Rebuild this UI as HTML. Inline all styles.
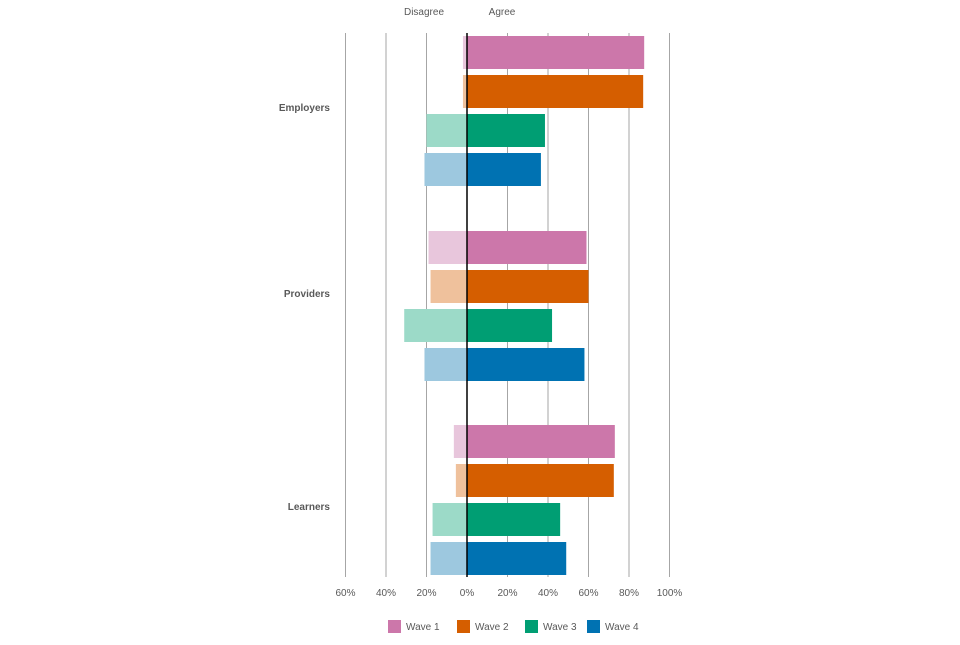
<!DOCTYPE html>
<html><head><meta charset="utf-8"><style>
body{margin:0;background:#fff;font-family:"Liberation Sans",sans-serif}
svg text{font-family:"Liberation Sans",sans-serif;fill:#595959}
</style></head><body>
<svg id="chart" width="960" height="640">
<text x="424" y="15" font-size="10" text-anchor="middle">Disagree</text>
<text x="502" y="15" font-size="10" text-anchor="middle">Agree</text>
<g id="grid"></g><g id="bars"></g><g id="labels"></g><g id="legend"></g>
</svg>
<script>
const groups=["Employers","Providers","Learners"];
const series=["Wave 1","Wave 2","Wave 3","Wave 4"];
const agreeW1=[87.5,59,73];
const agreeW2=[87,60,72.5];
const agreeW3=[38.5,42,46];
const agreeW4=[36.5,58,49];
const disagreeW1=[2,19,6.5];
const disagreeW2=[2,18,5.5];
const disagreeW3=[20,31,17];
const disagreeW4=[21,21,18];
const ticks=[-60,-40,-20,0,20,40,60,80,100];
const tickLabels=["60%","40%","20%","0%","20%","40%","60%","80%","100%"];
const agree=[agreeW1,agreeW2,agreeW3,agreeW4];
const disagree=[disagreeW1,disagreeW2,disagreeW3,disagreeW4];
const dark=["#cc77aa","#d55e00","#009e73","#0072b2"];
const light=["#e8c6dc","#efc19c","#9cdac8","#9dc8df"];
const NS="http://www.w3.org/2000/svg";
const x=v=>467+v*2.025;
const groupTop=[36,231,425], barH=33, step=39;
const labelY=[111,297,510];
function mk(t,a,p){const e=document.createElementNS(NS,t);for(const k in a)e.setAttribute(k,a[k]);p.appendChild(e);return e;}
const grid=document.getElementById('grid'),bars=document.getElementById('bars'),labels=document.getElementById('labels'),legend=document.getElementById('legend');
ticks.forEach((t,i)=>{
  if(t!==0){const l=mk('line',{x1:x(t),x2:x(t),y1:33,y2:577,stroke:'#a6a6a6','stroke-width':1},grid);
  
  }
  const tx=mk('text',{x:x(t),y:596,'font-size':10,'text-anchor':'middle'},labels);tx.textContent=tickLabels[i];
  
  
});
groups.forEach((g,gi)=>{
  series.forEach((s,si)=>{
    const y=groupTop[gi]+si*step;
    const d=disagree[si][gi],a=agree[si][gi];
    const r1=mk('rect',{x:x(-d),y:y,width:x(0)-x(-d),height:barH,fill:light[si]},bars);
    
    
    const r2=mk('rect',{x:x(0),y:y,width:x(a)-x(0),height:barH,fill:dark[si]},bars);
    
    
  });
  const t=mk('text',{x:330,y:labelY[gi],'font-size':10,'font-weight':'bold','text-anchor':'end'},labels);t.textContent=g;
  
  
});
const z=mk('line',{x1:x(0),x2:x(0),y1:33,y2:577,stroke:'#000','stroke-width':1.5},bars);


const lx=[388,457,525,587];
series.forEach((s,i)=>{
  const r=mk('rect',{x:lx[i],y:620,width:13,height:13,fill:dark[i]},legend);
  
  
  const t=mk('text',{x:lx[i]+18,y:630,'font-size':10},legend);t.textContent=s;
  
  
});
</script>
</body></html>
